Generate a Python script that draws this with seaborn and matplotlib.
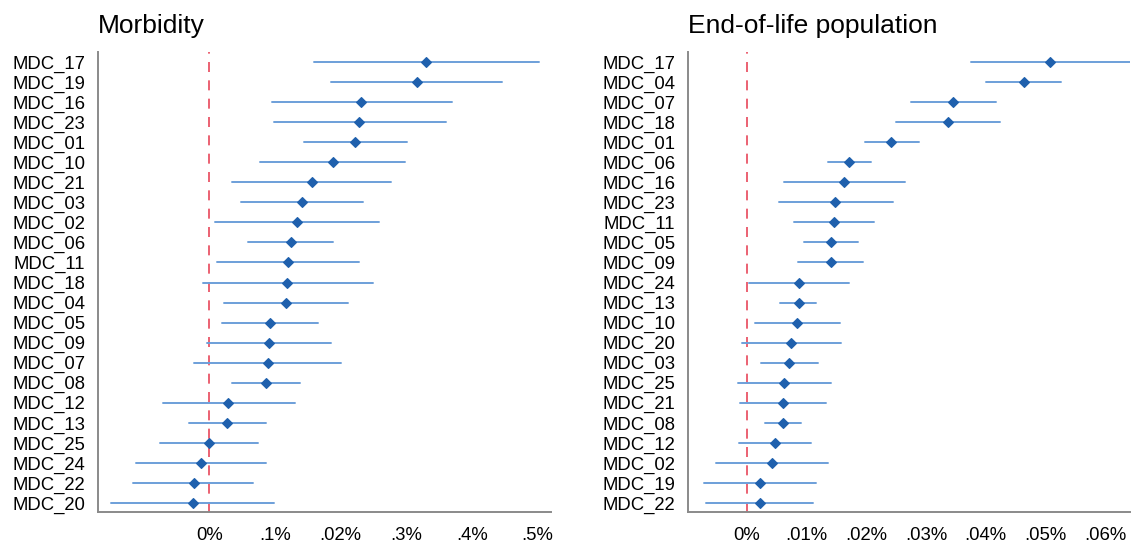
import numpy as np
import pandas as pd
import matplotlib
matplotlib.use("Agg")
import matplotlib.pyplot as plt
import seaborn as sns

# ---------------- data (values in percent) ----------------
morb_cats = ["MDC_17", "MDC_19", "MDC_16", "MDC_23", "MDC_01", "MDC_10", "MDC_21", "MDC_03",
             "MDC_02", "MDC_06", "MDC_11", "MDC_18", "MDC_04", "MDC_05", "MDC_09", "MDC_07",
             "MDC_08", "MDC_12", "MDC_13", "MDC_25", "MDC_24", "MDC_22", "MDC_20"]
morb_est = [0.330, 0.316, 0.232, 0.229, 0.222, 0.188, 0.156, 0.141,
            0.133, 0.124, 0.120, 0.119, 0.117, 0.093, 0.091, 0.089,
            0.086, 0.029, 0.027, 0.000, -0.012, -0.024, -0.025]
morb_lo = [0.160, 0.185, 0.096, 0.099, 0.145, 0.078, 0.035, 0.048,
           0.008, 0.059, 0.012, -0.010, 0.022, 0.019, -0.004, -0.023,
           0.034, -0.071, -0.031, -0.075, -0.111, -0.117, -0.150]
morb_hi = [0.502, 0.447, 0.370, 0.361, 0.302, 0.299, 0.277, 0.234,
           0.259, 0.188, 0.228, 0.249, 0.211, 0.166, 0.185, 0.201,
           0.139, 0.130, 0.087, 0.074, 0.087, 0.067, 0.098]

eol_cats = ["MDC_17", "MDC_04", "MDC_07", "MDC_18", "MDC_01", "MDC_06", "MDC_16", "MDC_23",
            "MDC_11", "MDC_05", "MDC_09", "MDC_24", "MDC_13", "MDC_10", "MDC_20", "MDC_03",
            "MDC_25", "MDC_21", "MDC_08", "MDC_12", "MDC_02", "MDC_19", "MDC_22"]
eol_est = [0.0508, 0.0464, 0.0345, 0.0337, 0.0242, 0.0171, 0.0162, 0.0148,
           0.0146, 0.0140, 0.0140, 0.0087, 0.0087, 0.0083, 0.0074, 0.0071,
           0.0062, 0.0060, 0.0060, 0.0047, 0.0041, 0.0022, 0.0022]
eol_lo = [0.0376, 0.0400, 0.0274, 0.0250, 0.0198, 0.0136, 0.0062, 0.0053,
          0.0079, 0.0095, 0.0086, 0.0004, 0.0056, 0.0013, -0.0009, 0.0023,
          -0.0015, -0.0011, 0.0030, -0.0014, -0.0052, -0.0072, -0.0068]
eol_hi = [0.0642, 0.0526, 0.0417, 0.0424, 0.0289, 0.0207, 0.0264, 0.0244,
          0.0212, 0.0186, 0.0194, 0.0171, 0.0116, 0.0155, 0.0157, 0.0119,
          0.0140, 0.0132, 0.0091, 0.0108, 0.0136, 0.0115, 0.0110]

morb_ticks = [0.0, 0.1, 0.2, 0.3, 0.4, 0.5]
morb_ticklabels = ["0%", ".1%", ".02%", ".3%", ".4%", ".5%"]
eol_ticks = [0.0, 0.01, 0.02, 0.03, 0.04, 0.05, 0.06]
eol_ticklabels = ["0%", ".01%", ".02%", ".03%", ".04%", ".05%", ".06%"]

titles = ["Morbidity", "End-of-life population"]

# ---------------- style ----------------
sns.set_style("white")
plt.rcParams["font.family"] = ["Liberation Sans", "DejaVu Sans"]
plt.rcParams["text.color"] = "black"

MARK = "#1f60ad"
ERR = "#6d9fd9"
REF = "#e8475a"
SPINE = "#8a8a8a"


def long_frame(cats, lo, est, hi):
    rows = []
    for c, a, b, d in zip(cats, lo, est, hi):
        for v in (a, b, d):
            rows.append({"cat": c, "val": v})
    return pd.DataFrame(rows)


fig = plt.figure(figsize=(11.34, 5.44), dpi=100)
ax1 = fig.add_axes([0.0862, 0.0588, 0.3997, 0.8456])
ax2 = fig.add_axes([0.6067, 0.0588, 0.3898, 0.8456])

panels = [
    (ax1, morb_cats, morb_lo, morb_est, morb_hi, morb_ticks, morb_ticklabels, (-0.170, 0.521)),
    (ax2, eol_cats, eol_lo, eol_est, eol_hi, eol_ticks, eol_ticklabels, (-0.0099, 0.0642)),
]

for (ax, cats, lo, est, hi, ticks, tlabels, xlim), title in zip(panels, titles):
    df = long_frame(cats, lo, est, hi)
    ax.axvline(0, color=REF, linestyle=(0, (6, 5)), linewidth=1.2, zorder=1)
    sns.pointplot(data=df, x="val", y="cat", order=cats, ax=ax,
                  estimator="median", errorbar=lambda v: (v.min(), v.max()),
                  linestyle="none", marker="D", markersize=5.6, markeredgewidth=0.8,
                  color=MARK, err_kws={"color": ERR, "linewidth": 1.4}, capsize=0)
    for ln in ax.lines:
        if ln.get_marker() == "D":
            ln.set_zorder(5)
            ln.set_markeredgecolor(MARK)
    ax.set_xlim(*xlim)
    ax.set_ylim(22.45, -0.5)
    ax.set_xticks(ticks)
    ax.set_xticklabels(tlabels)
    ax.set_xlabel("")
    ax.set_ylabel("")
    ax.set_title(title, loc="left", fontsize=19, pad=14, color="black")
    ax.tick_params(axis="both", length=0, labelsize=13.3, colors="black")
    ax.tick_params(axis="y", pad=9)
    ax.tick_params(axis="x", pad=11)
    for s in ("top", "right"):
        ax.spines[s].set_visible(False)
    for s in ("left", "bottom"):
        ax.spines[s].set_color(SPINE)
        ax.spines[s].set_linewidth(1.4)

fig.savefig("out.png", dpi=100)
